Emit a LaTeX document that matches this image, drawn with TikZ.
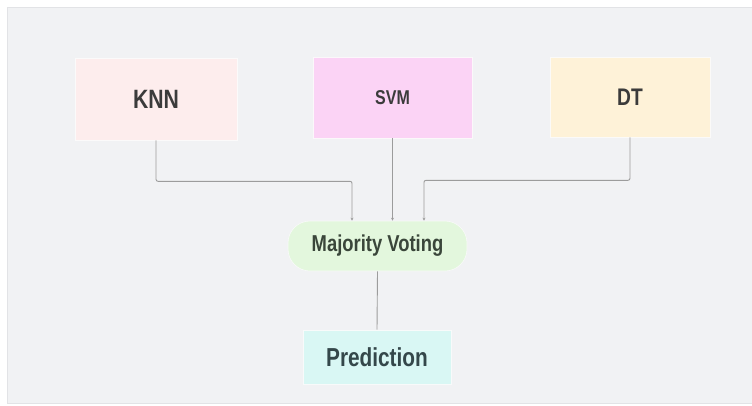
\documentclass[tikz,border=0pt]{standalone}
\usepackage{fontspec}
\setmainfont{Liberation Sans}[FakeStretch=0.8]
\usetikzlibrary{arrows.meta}
\definecolor{panel}{HTML}{F1F2F4}
\definecolor{panelline}{HTML}{E2E3E6}
\definecolor{wire}{HTML}{9C9C9C}
\definecolor{knnfill}{HTML}{FDEDED}
\definecolor{svmfill}{HTML}{FBD3F5}
\definecolor{dtfill}{HTML}{FEF2D8}
\definecolor{votefill}{HTML}{E3F7DD}
\definecolor{predfill}{HTML}{D9F7F4}
\definecolor{ink}{HTML}{3B3B3B}
\definecolor{voteink}{HTML}{3A463A}
\definecolor{predink}{HTML}{34474A}
\begin{document}
\begin{tikzpicture}[x=1pt,y=-1pt,
  model/.style={rectangle,draw=#1!80!black!8,line width=0.6pt,fill=#1,
    text=ink,font=\bfseries,inner sep=0pt},
  wireline/.style={draw=wire,line width=0.9pt,-{Stealth[length=3pt,width=3pt]}}]
\useasboundingbox (0,0) rectangle (752,405);
\fill[white] (0,0) rectangle (752,405);
\draw[panelline,fill=panel,line width=0.8pt] (7,7) rectangle (762,403);

% classifiers
\node[model=knnfill,minimum width=162pt,minimum height=82pt,font=\bfseries\fontsize{26.5}{28}\selectfont]
  (knn) at (156,99) {KNN};
\node[model=svmfill,minimum width=159pt,minimum height=81pt,font=\bfseries\fontsize{20}{22}\selectfont]
  (svm) at (392.5,97.5) {SVM};
\node[model=dtfill,minimum width=160pt,minimum height=80pt,font=\bfseries\fontsize{24}{26}\selectfont]
  (dt) at (630,97) {DT};

% combiner and output
\node[model=votefill,rounded corners=22pt,minimum width=179pt,minimum height=50pt,
  text=voteink,font=\bfseries\fontsize{23}{25}\selectfont]
  (vote) at (377.5,246) {Majority Voting};
\node[model=predfill,minimum width=148pt,minimum height=54pt,
  text=predink,font=\bfseries\fontsize{26}{28}\selectfont]
  (pred) at (377,357) {Prediction};

% connectors
\draw[wireline,rounded corners=2pt] (knn.south) -- ++(0,41) -| ([xshift=-25.5pt]vote.north);
\draw[wireline] (svm.south) -- (svm.south |- vote.north);
\draw[wireline,rounded corners=2pt] (dt.south) -- ++(0,43) -| ([xshift=46.5pt]vote.north);
\draw[draw=wire,line width=0.9pt] (vote.south) -- (pred.north);
\end{tikzpicture}
\end{document}
